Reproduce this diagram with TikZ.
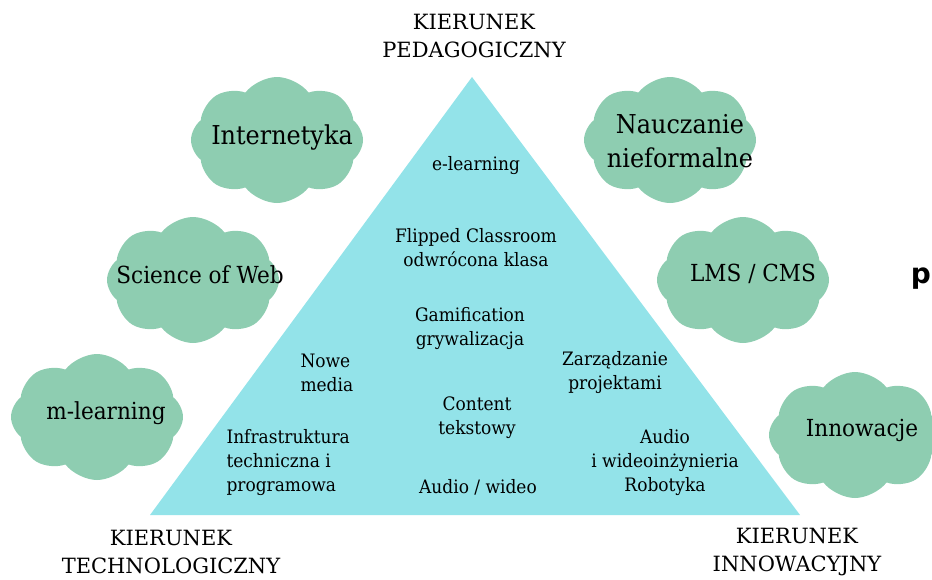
\documentclass[tikz,border=0pt]{standalone}
\usepackage{fontspec}
\setmainfont{DejaVu Serif}
\newfontfamily\cloudfont[FakeStretch=0.92]{DejaVu Serif}
\newfontfamily\narrowfont[FakeStretch=0.92]{DejaVu Serif}
\newfontfamily\edgefont{DejaVu Sans}
\usetikzlibrary{shapes.symbols}
\definecolor{cloud green}{HTML}{8ECDB1}
\definecolor{pyramid cyan}{HTML}{93E3E9}

\begin{document}
\begin{tikzpicture}[x=1pt, y=-1pt,
		puff/.style={cloud, cloud puffs=8, cloud puff arc=105, aspect=1.4, fill=cloud green,
			minimum width=172pt, minimum height=126pt, inner sep=0pt},
		puff text/.style={font=\cloudfont\fontsize{26}{34}\selectfont, align=center},
		small puff text/.style={font=\cloudfont\fontsize{23.5}{34}\selectfont, align=center},
		inside/.style={font=\narrowfont\fontsize{18.5}{24}\selectfont, align=center},
		corner/.style={font=\fontsize{21}{28}\selectfont, align=center}]
			\useasboundingbox (0, 0) rectangle (932, 579);
			% pyramid
			\coordinate (top) at (472, 77);
			\coordinate (left) at (150, 515);
			\coordinate (right) at (800, 515);
			\fill[pyramid cyan] (top) -- (right) -- (left) -- cycle;
			% clouds
			\node[puff] (internet) at (277, 140) {};
			\node[puff] (web) at (193, 280) {};
			\node[puff] (mobile) at (97, 417) {};
			\node[puff] (informal) at (670, 140) {};
			\node[puff] (lms) at (743, 280) {};
			\node[puff] (innov) at (855, 435) {};
			\node[puff text] at ([xshift=5pt, yshift=2pt]internet.center) {Internetyka};
			\node[small puff text] at ([xshift=7pt, yshift=5pt]web.center) {Science of Web};
			\node[small puff text] at ([xshift=9pt, yshift=4pt]mobile.center) {m-learning};
			\node[puff text] at ([xshift=10pt, yshift=-1pt]informal.center) {Nauczanie\\nieformalne};
			\node[small puff text] at ([xshift=10pt, yshift=6pt]lms.center) {LMS / CMS};
			\node[small puff text] at ([xshift=7pt, yshift=5pt]innov.center) {Innowacje};
			% inside the pyramid
			\node[inside] (elearn) at (476, 166) {e-learning};
			\node[inside] (flipped) at (476, 248) {Flipped Classroom\\odwrócona klasa};
			\node[inside] (gami) at (470, 329) {Gamification\\grywalizacja};
			\node[inside, align=left, anchor=west] (media) at (297, 373) {Nowe\\media};
			\node[inside] (projects) at (615, 373) {Zarządzanie\\projektami};
			\node[inside] (content) at (477, 418) {Content\\tekstowy};
			\node[inside, align=left, anchor=west] (infra) at (223, 463) {Infrastruktura\\techniczna i\\programowa};
			\node[inside] (av) at (478, 487) {Audio / wideo};
			\node[inside] (robot) at (665, 463) {Audio\\i wideoinżynieria\\Robotyka};
			% corners
			\node[corner] (ped) at (474, 36) {KIERUNEK\\PEDAGOGICZNY};
			\node[corner] (tech) at (171, 552) {KIERUNEK\\TECHNOLOGICZNY};
			\node[corner] (inno) at (797, 552) {KIERUNEK\\INNOWACYJNY};
			% stray letter at the edge
			\node[font=\edgefont\bfseries\fontsize{28}{28}\selectfont, anchor=base east, inner sep=0pt] (edge) at (931, 283) {p};
		\end{tikzpicture}
\end{document}
